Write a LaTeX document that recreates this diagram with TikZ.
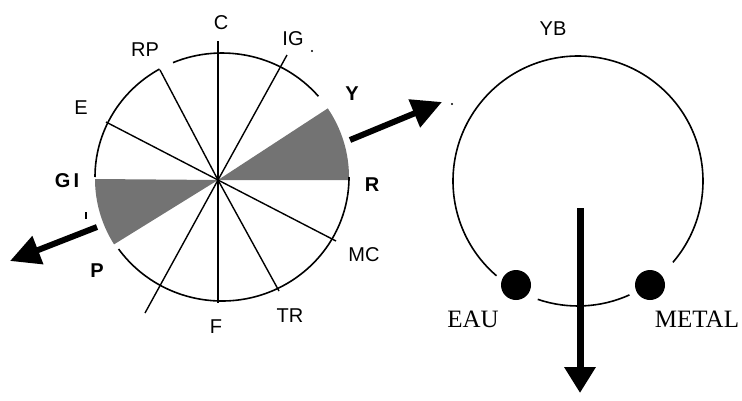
\documentclass[tikz,border=0pt]{standalone}
\usepackage{fontspec}
\setmainfont{Liberation Sans}
\newfontfamily\serifface{Liberation Serif}
\usetikzlibrary{arrows.meta}
\begin{document}
\begin{tikzpicture}[x=1pt,y=-1pt,
  lab/.style={font=\fontsize{20}{24}\selectfont, inner sep=0pt},
  blab/.style={font=\fontsize{20}{24}\selectfont\bfseries, inner sep=0pt},
  slab/.style={font=\serifface\fontsize{25}{30}\selectfont, inner sep=0pt},
  rim/.style={line width=1.6pt},
  spoke/.style={line width=1.4pt},
  axis/.style={line width=2pt},
  bigarrow/.style={line width=6pt, -{Triangle[length=30pt,width=29pt]}},
  downarrow/.style={line width=7pt, -{Triangle[length=26pt,width=30pt]}},
  shaded/.style={fill=black!55},
  dotmark/.style={fill=black, draw=none},
]
\useasboundingbox (0,0) rectangle (742,400);

% ---------- left wheel ----------
\coordinate (L) at (222,177);   % centre of the rim
\coordinate (O) at (218,180);   % meeting point of the spokes

% shaded sectors
\fill[shaded] (O) -- ([shift={(L)}]-33.6:127 and 124)
   arc[start angle=-33.6, end angle=0, x radius=127, y radius=124] -- (349,180) -- cycle;
\fill[shaded] (O) -- (95,179)
   arc[start angle=180, end angle=148.2, x radius=127, y radius=124] -- cycle;

% rim (with its gaps)
\draw[rim] ([shift={(L)}]-112.7:127 and 124) arc[start angle=-112.7, end angle=-40.6, x radius=127, y radius=124];
\draw[rim] ([shift={(L)}]-180:127 and 124) arc[start angle=-180, end angle=-119.5, x radius=127, y radius=124];
\draw[rim] ([shift={(L)}]0:127 and 124) arc[start angle=0, end angle=144.5, x radius=127, y radius=124];

% spokes
\coordinate (cTop) at (218,41);
\coordinate (cBot) at (218,303);
\coordinate (sIG) at (287,55);
\coordinate (sRP) at (160,70);
\coordinate (sE) at (106,122);
\coordinate (sMC) at (336,241);
\coordinate (sTR) at (279,291);
\coordinate (sLL) at (145,313);
\draw[axis] (cTop) -- (cBot);
\draw[spoke] (O) -- (sIG);
\draw[spoke] (O) -- (sRP);
\draw[spoke] (O) -- (sE);
\draw[spoke] (O) -- (sMC);
\draw[spoke] (O) -- (sTR);
\draw[spoke] (O) -- (sLL);

% labels
\node[lab] (C) at (221,23) {C};
\node[lab] (IG) at (293,39) {IG};
\node[lab] (RP) at (145,50) {RP};
\node[lab] (E) at (81,108) {E};
\node[blab] (Y) at (352,94) {Y};
\node[blab] (GI) at (67,181) {G\kern3pt I};
\node[blab] (R) at (372,185) {R};
\node[lab] (MC) at (364,255) {MC};
\node[lab] (TR) at (290,316) {TR};
\node[lab] (F) at (216,327) {F};
\node[blab] (P) at (97,271) {P};

% small marks
\draw[line width=1.5pt] (86,212) -- (86,219);
\fill[dotmark] (312,51) circle (1.1);
\fill[dotmark] (452,104) circle (1.1);

% arrows of the left wheel
\coordinate (ra1) at (350,140);
\coordinate (ra2) at (442,102);
\draw[bigarrow] (ra1) -- (ra2);
\coordinate (la1) at (97,227);
\coordinate (la2) at (10,261);
\draw[bigarrow] (la1) -- (la2);

% ---------- right circle ----------
\coordinate (K) at (578,181);
\draw[rim] ([shift={(K)}]-229.3:125) arc[start angle=-229.3, end angle=40.6, radius=125];
\draw[rim] ([shift={(K)}]65.7:125) arc[start angle=65.7, end angle=108.8, radius=125];

\node[dotmark, circle, minimum size=30pt, inner sep=0pt] (eau) at (516,285) {};
\node[dotmark, circle, minimum size=30pt, inner sep=0pt] (metal) at (650,285) {};

\coordinate (da1) at (580,208);
\coordinate (da2) at (580,393);
\draw[downarrow] (da1) -- (da2);

\node[lab] (YB) at (553,29) {YB};
\node[slab] (EAUl) at (473,319) {EAU};
\node[slab] (METALl) at (697,319) {METAL};
\end{tikzpicture}
\end{document}
